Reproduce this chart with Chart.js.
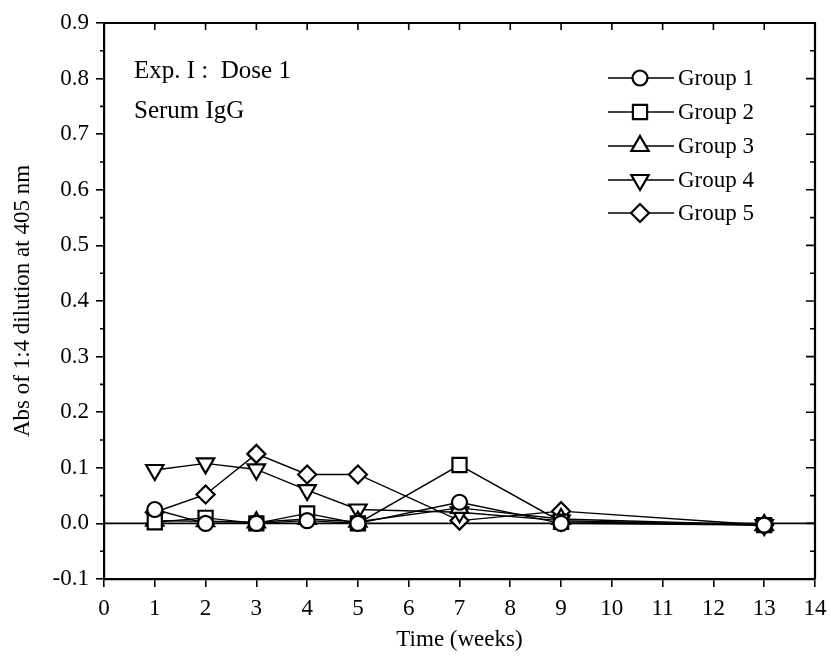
<!DOCTYPE html>
<html>
<head>
<meta charset="utf-8">
<script src="https://cdn.jsdelivr.net/npm/chart.js@4"></script>
<style>
  body { margin: 0; background: #fff; }
  #wrap { width: 831px; height: 662px; }
</style>
</head>
<body>
<div id="wrap"><canvas id="igg" width="831" height="662"></canvas></div>
<script>
// Serum IgG, dose 1 — absorbance per group over time
const weeks = [1, 2, 3, 4, 5, 7, 9, 13];
const group1 = [0.025, 0.000, 0.000, 0.005, 0.000, 0.038, 0.000, -0.003];
const group2 = [0.002, 0.010, 0.000, 0.018, 0.000, 0.105, 0.003, -0.003];
const group3 = [0.005, 0.004, 0.002, 0.008, 0.003, 0.028, 0.008, -0.003];
const group4 = [0.096, 0.108, 0.097, 0.060, 0.025, 0.020, 0.005, -0.003];
const group5 = [0.020, 0.052, 0.125, 0.088, 0.088, 0.005, 0.022, -0.003];
const groupNames = ['Group 1', 'Group 2', 'Group 3', 'Group 4', 'Group 5'];
const xTicks = [0, 1, 2, 3, 4, 5, 6, 7, 8, 9, 10, 11, 12, 13, 14];
const yTicks = [-0.1, 0, 0.1, 0.2, 0.3, 0.4, 0.5, 0.6, 0.7, 0.8, 0.9];

const FONT = "'Liberation Serif', 'Times New Roman', serif";

const markers = [
    { pointStyle: 'circle', radius: 7.5, rotation: 0 },
    { pointStyle: 'rect', radius: 10, rotation: 0 },
    { pointStyle: 'triangle', radius: 10, rotation: 0 },
    { pointStyle: 'triangle', radius: 10, rotation: 180 },
    { pointStyle: 'rectRot', radius: 9, rotation: 0 }
];

const series = [group1, group2, group3, group4, group5];

const datasets = series.map((vals, i) => ({
    label: groupNames[i],
    data: weeks.map((w, j) => ({ x: w, y: vals[j] })),
    borderColor: '#000',
    borderWidth: 1.4,
    backgroundColor: '#fff',
    pointStyle: markers[i].pointStyle,
    pointRadius: markers[i].radius,
    pointRotation: markers[i].rotation,
    pointBorderColor: '#000',
    pointBackgroundColor: '#fff',
    pointBorderWidth: 2.2,
    tension: 0,
    fill: false
}));

// frame, mirrored ticks, minor ticks, zero line, legend and labels
const framePlugin = {
    id: 'frame',
    beforeDatasetsDraw(chart) {
        const { ctx, chartArea: a, scales: { y } } = chart;
        const y0 = y.getPixelForValue(0);
        ctx.save();
        ctx.strokeStyle = '#000';
        ctx.lineWidth = 1.8;
        ctx.beginPath();
        ctx.moveTo(a.left, y0);
        ctx.lineTo(a.right, y0);
        ctx.stroke();
        ctx.restore();
    },
    afterDraw(chart) {
        const { ctx, chartArea: a, scales: { x, y } } = chart;
        ctx.save();
        ctx.strokeStyle = '#000';
        ctx.lineWidth = 2.2;
        ctx.beginPath();
        ctx.moveTo(a.left, a.top);
        ctx.lineTo(a.right, a.top);
        ctx.lineTo(a.right, a.bottom);
        ctx.stroke();

        ctx.lineWidth = 1.6;
        ctx.beginPath();
        // top ticks point inward
        xTicks.forEach(v => {
            if (v === 0 || v === 14) return;
            const px = x.getPixelForValue(v);
            ctx.moveTo(px, a.top);
            ctx.lineTo(px, a.top + 7);
        });
        // right ticks point inward, minor ones in between; left minors outward
        for (let k = -2; k <= 18; k++) {
            const py = y.getPixelForValue(k * 0.05);
            const len = k % 2 === 0 ? 9 : 5;
            ctx.moveTo(a.right, py);
            ctx.lineTo(a.right - len, py);
            if (k % 2 !== 0) {
                ctx.moveTo(a.left, py);
                ctx.lineTo(a.left - 4, py);
            }
        }
        ctx.stroke();

        // legend: line - marker - line, then name
        const rowY = [78, 112, 146, 180, 213];
        ctx.textBaseline = 'middle';
        ctx.textAlign = 'left';
        groupNames.forEach((name, i) => {
            const ry = rowY[i];
            const m = markers[i];
            ctx.strokeStyle = '#000';
            ctx.lineWidth = 1.5;
            ctx.beginPath();
            ctx.moveTo(608, ry);
            ctx.lineTo(674, ry);
            ctx.stroke();
            ctx.lineWidth = 2.2;
            ctx.fillStyle = '#fff';
            Chart.helpers.drawPoint(ctx, {
                pointStyle: m.pointStyle,
                rotation: m.rotation,
                radius: m.radius,
                borderWidth: 2.2
            }, 640, ry);
            ctx.fillStyle = '#000';
            ctx.font = '23px ' + FONT;
            ctx.fillText(name, 678, ry + 1);
        });

        ctx.font = '25px ' + FONT;
        ctx.textBaseline = 'alphabetic';
        ctx.fillText('Exp. I :  Dose 1', 134, 78);
        ctx.fillText('Serum IgG', 134, 118);
        ctx.restore();
    }
};

new Chart(document.getElementById('igg'), {
    type: 'line',
    data: { datasets },
    options: {
        responsive: false,
        animation: false,
        layout: { padding: { top: 23, right: 16, left: 0, bottom: 0 } },
        plugins: { legend: { display: false }, tooltip: { enabled: false } },
        scales: {
            x: {
                type: 'linear',
                min: 0,
                max: 14,
                afterFit: s => { s.height = 83; s.paddingRight = 0; },
                afterBuildTicks: s => { s.ticks = xTicks.map(v => ({ value: v })); },
                grid: { display: true, drawOnChartArea: false, tickLength: 8, color: '#000', lineWidth: 1.6 },
                border: { display: true, color: '#000', width: 2.2 },
                ticks: { color: '#000', padding: 8, font: { family: FONT, size: 23 } },
                title: { display: true, text: 'Time (weeks)', color: '#000', padding: { bottom: 8 }, font: { family: FONT, size: 23 } }
            },
            y: {
                min: -0.1,
                max: 0.9,
                afterFit: s => { s.width = 104; },
                afterBuildTicks: s => { s.ticks = yTicks.map(v => ({ value: v })); },
                grid: { display: true, drawOnChartArea: false, tickLength: 8, color: '#000', lineWidth: 1.6 },
                border: { display: true, color: '#000', width: 2.2 },
                ticks: { color: '#000', padding: 7, font: { family: FONT, size: 23 }, callback: v => v.toFixed(1) },
                title: { display: true, text: 'Abs of 1:4 dilution at 405 nm', color: '#000', padding: { top: 9 }, font: { family: FONT, size: 23 } }
            }
        }
    },
    plugins: [framePlugin]
});
</script>
</body>
</html>
